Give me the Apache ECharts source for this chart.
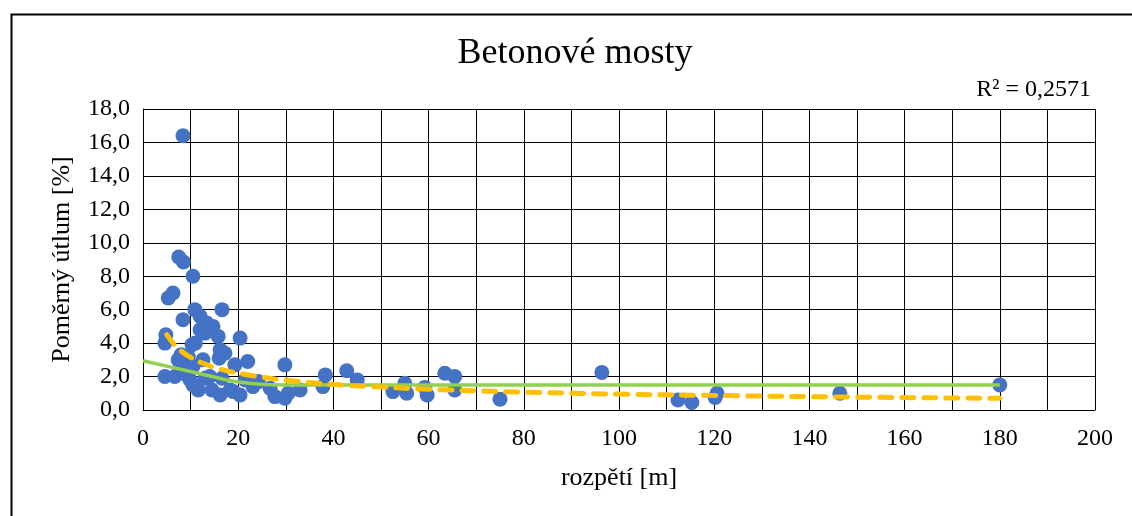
<!DOCTYPE html>
<html>
<head>
<meta charset="utf-8">
<script src="https://cdn.jsdelivr.net/npm/echarts@6/dist/echarts.min.js"></script>
<style>
  html, body { margin: 0; padding: 0; background: #fff; }
  #chart { width: 1132px; height: 516px; }
</style>
</head>
<body>
<div id="chart"></div>
<script>
// Span of each concrete bridge [m]
const spanM = [
  8.4, 7.5, 8.5, 10.5, 6.3, 5.3, 10.9, 16.6, 8.4, 12.0,
  13.4, 14.7, 12.0, 13.0, 15.8, 4.8, 20.4, 4.6, 10.3, 11.0,
  16.2, 17.2, 9.5, 7.4, 12.6, 16.0, 22.0, 19.3, 10.5, 8.4,
  4.6, 6.7, 9.2, 13.0, 16.6, 10.5, 11.6, 14.5, 16.2, 18.3,
  20.4, 23.1, 24.2, 26.7, 27.7, 29.8, 30.5, 33.0, 29.8, 38.3,
  37.8, 42.8, 45.0, 55.0, 52.5, 55.4, 59.2, 59.7, 63.4, 65.5,
  65.5, 75.0, 96.4, 112.4, 115.3, 120.6, 120.2, 146.4, 180.0, 14.0,
  9.9, 21.5, 19.0, 8.0
];
// Relative damping of each bridge [%]
const dampingPct = [
  16.4, 9.15, 8.85, 8.0, 7.0, 6.7, 6.0, 6.0, 5.4, 5.6,
  5.2, 5.0, 4.8, 4.6, 4.4, 4.5, 4.3, 4.0, 3.9, 4.0,
  3.6, 3.4, 3.2, 3.0, 3.0, 3.1, 2.9, 2.7, 2.6, 2.4,
  2.0, 2.0, 2.1, 1.9, 1.9, 1.5, 1.2, 1.2, 0.9, 1.2,
  0.9, 1.4, 1.7, 1.3, 0.8, 0.7, 1.0, 1.2, 2.7, 2.1,
  1.4, 2.35, 1.8, 1.6, 1.1, 1.0, 1.35, 0.9, 2.2, 2.0,
  1.2, 0.65, 2.25, 0.6, 0.45, 1.0, 0.75, 1.0, 1.5, 2.0,
  1.8, 1.8, 1.1, 3.3
];

// Power trend line (dashed)
const trendX = [5, 7, 10, 13, 16, 20, 25, 30, 40, 50, 60, 80, 100, 120, 150, 180];
const trendY = [4.5, 3.79, 3.15, 2.75, 2.47, 2.2, 1.97, 1.78, 1.53, 1.37, 1.24, 1.07, 0.95, 0.87, 0.77, 0.70];

// Reference level (green)
const levelX = [0, 10, 20, 30, 180];
const levelY = [2.95, 2.3, 1.68, 1.5, 1.5];

const xTicks = [0, 20, 40, 60, 80, 100, 120, 140, 160, 180, 200];
const yTicks = [0, 2, 4, 6, 8, 10, 12, 14, 16, 18];

const chartTitle = 'Betonové mosty';
const rSquaredLabel = 'R² = 0,2571';
const xName = 'rozpětí [m]';
const yName = 'Poměrný útlum [%]';

const serif = '"Liberation Serif", "Times New Roman", serif';

const points = spanM.map((x, i) => [x, dampingPct[i]]);
const trend = trendX.map((x, i) => [x, trendY[i]]);
const level = levelX.map((x, i) => [x, levelY[i]]);

const chart = echarts.init(document.getElementById('chart'), null, { renderer: 'canvas' });

chart.setOption({
  animation: false,
  backgroundColor: '#ffffff',
  grid: { left: 143, top: 109, width: 952, height: 301, containLabel: false },
  graphic: [
    {
      type: 'rect', left: 9, top: 12, silent: true,
      shape: { width: 1200, height: 600 },
      style: { fill: 'none', stroke: '#000', lineWidth: 2 }
    },
    {
      type: 'text', x: 575, y: 36,
      style: { text: chartTitle, font: '36px ' + serif, fill: '#000', textAlign: 'center', textVerticalAlign: 'top' }
    },
    {
      type: 'text', x: 1091, y: 78,
      style: { text: rSquaredLabel, font: '24px ' + serif, fill: '#000', textAlign: 'right', textVerticalAlign: 'top' }
    }
  ],
  xAxis: {
    type: 'value', min: 0, max: 200, interval: 10,
    name: xName, nameLocation: 'middle', nameGap: 55,
    nameTextStyle: { fontFamily: serif, fontSize: 26, color: '#000' },
    axisLine: { show: true, lineStyle: { color: '#000', width: 1 } },
    axisTick: { show: false },
    axisLabel: {
      fontFamily: serif, fontSize: 24, color: '#000', margin: 17,
      formatter: v => (xTicks.indexOf(v) >= 0 ? String(v) : '')
    },
    splitLine: { show: true, lineStyle: { color: '#000', width: 1 } }
  },
  yAxis: {
    type: 'value', min: 0, max: 18, interval: 2,
    name: yName, nameLocation: 'middle', nameGap: 68, nameRotate: 90,
    nameTextStyle: { fontFamily: serif, fontSize: 26, color: '#000' },
    axisLine: { show: true, lineStyle: { color: '#000', width: 1 } },
    axisTick: { show: false },
    axisLabel: {
      fontFamily: serif, fontSize: 24, color: '#000', margin: 13,
      formatter: v => (yTicks.indexOf(v) >= 0 ? v.toFixed(1).replace('.', ',') : '')
    },
    splitLine: { show: true, lineStyle: { color: '#000', width: 1 } }
  },
  series: [
    {
      type: 'scatter', data: points, symbol: 'circle', symbolSize: 15,
      itemStyle: { color: '#4472C4', opacity: 1 }, z: 2
    },
    {
      type: 'line', data: level, showSymbol: false, smooth: 0.3,
      lineStyle: { color: '#92D050', width: 3.5 }, z: 3
    },
    {
      type: 'line', data: trend, showSymbol: false, smooth: true,
      lineStyle: { color: '#FFC000', width: 5, type: [12, 10], cap: 'round' }, z: 4
    }
  ]
});
</script>
</body>
</html>
